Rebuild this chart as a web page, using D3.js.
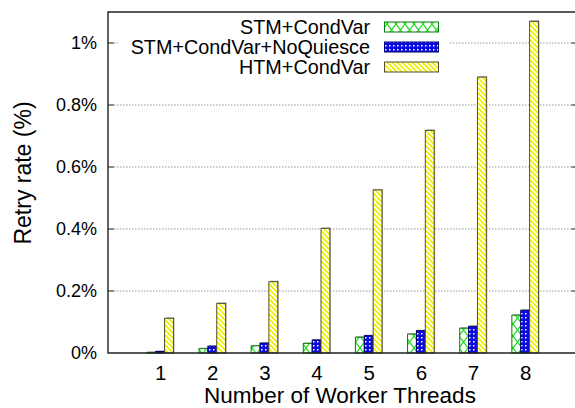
<!DOCTYPE html>
<html><head><meta charset="utf-8">
<script src="https://cdn.jsdelivr.net/npm/d3@7"></script>
<style>body{margin:0;background:#fff}svg{display:block}text{font-family:"Liberation Sans",Arial,Helvetica,sans-serif;fill:#000}</style>
</head><body><svg id="c" width="575" height="408"></svg>
<script>
const categories = [1,2,3,4,5,6,7,8];
const seriesNames = ["STM+CondVar","STM+CondVar+NoQuiesce","HTM+CondVar"];
const stmCondVar = [0.002,0.014,0.023,0.031,0.051,0.061,0.080,0.122];
const stmNoQuiesce = [0.005,0.022,0.032,0.042,0.056,0.072,0.086,0.138];
const htmCondVar = [0.112,0.160,0.230,0.402,0.526,0.718,0.890,1.070];
const yTicks = [0,0.2,0.4,0.6,0.8,1.0];
const yTickLabels = ["0%","0.2%","0.4%","0.6%","0.8%","1%"];
const xLabel = "Number of Worker Threads";
const yLabel = "Retry rate (%)";

const series = [stmCondVar, stmNoQuiesce, htmCondVar];
const svg = d3.select("#c");
const L=108, R=577.3, T=12, B=353;
const x = d3.scaleLinear().domain([0,9]).range([L,R]);
const y = d3.scaleLinear().domain([0,1.1]).range([B,T]);
const bw = 0.17;

// patterns
const defs = svg.append("defs");
const pg = defs.append("pattern").attr("id","pg").attr("patternUnits","userSpaceOnUse").attr("width",9).attr("height",12);
pg.append("rect").attr("width",9).attr("height",12).attr("fill","#fff");
pg.append("path").attr("d","M0,0L9,12M9,0L0,12").attr("stroke","#22dd22").attr("stroke-width",1.3);
const pb = defs.append("pattern").attr("id","pb").attr("patternUnits","userSpaceOnUse").attr("width",4).attr("height",4);
pb.append("rect").attr("width",4).attr("height",4).attr("fill","#0a0ae6");
pb.append("rect").attr("x",1).attr("y",1).attr("width",1.5).attr("height",1.5).attr("fill","#fff");
const py = defs.append("pattern").attr("id","py").attr("patternUnits","userSpaceOnUse").attr("width",5).attr("height",5);
py.append("rect").attr("width",5).attr("height",5).attr("fill","#fff");
py.append("path").attr("d","M-1,-1L6,6M-1,4L1,6M4,-1L6,1").attr("stroke","#f0f000").attr("stroke-width",1.8);
const fills = ["url(#pg)","url(#pb)","url(#py)"];
const strokes = ["#0a7a0a","#00006a","#505030"];

// grid
const grid = svg.append("g");
yTicks.slice(1).forEach(v=>{
  grid.append("line").attr("x1",L).attr("x2",R).attr("y1",y(v)).attr("y2",y(v))
    .attr("stroke","#999").attr("stroke-width",1).attr("stroke-dasharray","1.5,1.5");
  grid.append("line").attr("x1",L).attr("x2",L+6).attr("y1",y(v)).attr("y2",y(v)).attr("stroke","#333");
  grid.append("line").attr("x1",R-6).attr("x2",R).attr("y1",y(v)).attr("y2",y(v)).attr("stroke","#333");
});

// bars
series.forEach((s,si)=>{
  const g = svg.append("g");
  categories.forEach((c,i)=>{
    const x0 = x(c + (si-1)*bw - bw/2), x1 = x(c + (si-1)*bw + bw/2);
    const h = B - y(s[i]);
    g.append("rect").attr("x",x0+1).attr("y",y(s[i])-1).attr("width",x1-x0).attr("height",h+1)
      .attr("fill","#aaa");
    g.append("rect").attr("x",x0).attr("y",y(s[i])).attr("width",x1-x0).attr("height",h)
      .attr("fill",fills[si]).attr("stroke",strokes[si]).attr("stroke-width",1);
  });
});

// frame
svg.append("path").attr("d",`M${R},${T}L${L},${T}L${L},${B}L${R},${B}`).attr("fill","none")
  .attr("stroke","#222").attr("stroke-width",1.4);

// y axis labels
const ya = svg.append("g").attr("transform",`translate(${L},0)`)
  .call(d3.axisLeft(y).tickValues(yTicks).tickSize(0).tickPadding(11).tickFormat((d,i)=>yTickLabels[i]));
ya.select(".domain").remove();
ya.selectAll("text").attr("font-size",18).attr("font-family",null);

// x axis labels
const xa = svg.append("g").attr("transform",`translate(0,${B})`)
  .call(d3.axisBottom(x).tickValues(categories).tickSize(0).tickPadding(12).tickFormat(d=>d));
xa.select(".domain").remove();
xa.selectAll("text").attr("font-size",20.5).attr("font-family",null);

svg.append("text").attr("x",340).attr("y",403).attr("text-anchor","middle").attr("font-size",22.5).text(xLabel);
svg.append("text").attr("transform","translate(31,173) rotate(-90)").attr("text-anchor","middle").attr("font-size",23).text(yLabel);

// legend
svg.append("rect").attr("x",118).attr("y",15).attr("width",332).attr("height",62).attr("fill","#fff");
seriesNames.forEach((n,i)=>{
  const cy = 27 + i*20;
  svg.append("text").attr("x",370).attr("y",cy).attr("dy","0.35em").attr("text-anchor","end").attr("font-size",19.8).text(n);
  svg.append("rect").attr("x",384.5).attr("y",cy-5).attr("width",54).attr("height",10)
    .attr("fill",fills[i]).attr("stroke",strokes[i]).attr("stroke-width",1);
});
</script></body></html>
